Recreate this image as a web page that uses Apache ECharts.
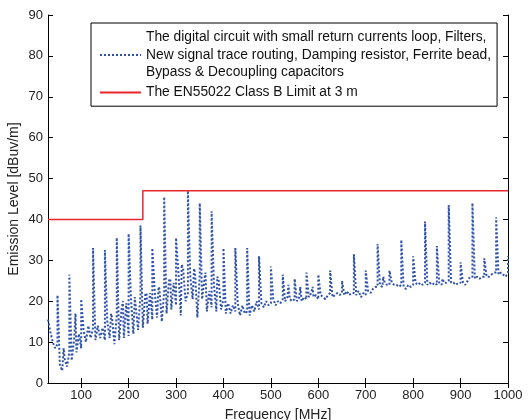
<!DOCTYPE html>
<html>
<head>
<meta charset="utf-8">
<script src="https://cdn.jsdelivr.net/npm/echarts@6/dist/echarts.min.js"></script>
<style>
  html, body { margin: 0; padding: 0; background: #fff; }
  #chart { width: 532px; height: 420px; }
</style>
</head>
<body>
<div id="chart"></div>
<script>
// Radiated emission sweep: analyser floor sampled every 5 MHz from 30 MHz
const sweepStartMHz = 30;
const sweepStepMHz = 5;
const floorLevel = [
  15.5, 12.5, 10, 8.5, 9.5, 4.5, 3, 6, 4, 7.5,          // 30-75
  5.5, 10.5, 7.5, 12, 8.5, 13, 10, 14, 11, 13.5,        // 80-125
  10.5, 14, 11, 13.5, 10.5, 15, 11, 16, 9.5, 16.5,      // 130-175
  10.5, 18, 11, 19.5, 11.5, 20.5, 12, 21, 13, 21.5,     // 180-225
  13.5, 21.5, 14.5, 22, 15.5, 22.5, 16, 23, 15, 22.5,   // 230-275
  17, 25, 18, 24.5, 19, 27, 16.5, 28, 20, 22,           // 280-325
  26, 20.5, 27, 16, 26.5, 20.5, 25.5, 17.5, 22.5, 18.5, // 330-375
  24, 17.5, 25, 18, 20.5, 17, 19.5, 17, 19, 17.5,       // 380-425
  19.5, 16.5, 19, 17, 17.5, 16.5, 19, 17.5, 20, 18,     // 430-475
  19.5, 18.5, 20, 19, 19.5, 20.5, 19, 20, 19.5, 20.5,   // 480-525
  20, 21, 20.5, 20, 20.5, 20, 21, 20, 21, 20.5,         // 530-575
  21, 22, 21, 21.5, 20.5, 21.5, 21, 20.5, 21.5, 22,     // 580-625
  21, 21.5, 22, 21.5, 22, 21.5, 22.5, 21.5, 22, 22,     // 630-675
  21.5, 22.5, 21, 22, 21.5, 22.5, 22, 23, 23.5, 23.5,   // 680-725
  24, 23.5, 24.5, 24, 24, 24.5, 24, 24, 23.5, 24,       // 730-775
  23.5, 23, 24, 23.5, 24, 24.5, 24, 24.5, 24, 24.5,     // 780-825
  24, 24.5, 24, 24.5, 24, 24.5, 24, 24.5, 24.5, 25,     // 830-875
  24.5, 24.5, 24, 24.5, 24.5, 24.5, 24, 25, 26, 26,     // 880-925
  25.5, 26, 25.5, 26, 26, 26, 26, 26.5, 27, 27,         // 930-975
  26.5, 27, 26.5, 26, 27                                // 980-1000
];

// Clock harmonics (25 MHz spacing) and their peak levels
const harmonicFreq = [50, 75, 100, 125, 150, 175, 200, 225, 250, 275, 300, 325, 350,
  375, 400, 425, 450, 475, 500, 525, 550, 575, 600, 625, 650, 675, 700, 725,
  750, 775, 800, 825, 850, 875, 900, 925, 950, 975, 1000];
const harmonicPeak = [21.5, 26.5, 20.5, 33, 32.5, 35.5, 36.5, 38.5, 33, 45.5, 35.5, 47, 44,
  42, 33, 33, 33, 31, 28.5, 26.5, 25.5, 27, 26.5, 27.5, 25, 31.5, 27.5, 34,
  27.5, 35, 31, 39.5, 33.5, 43.5, 29.5, 44, 30.5, 40.5, 31];

// Smaller spurs between the harmonics
const spurFreq = [63, 88, 163, 188, 213, 238, 263, 288, 312, 338, 362, 387, 537, 562, 588, 737, 862];
const spurPeak = [8.5, 17, 17, 20, 21, 22, 23.5, 25.5, 29, 28, 27, 26, 24, 23.5, 23.5, 26, 25.5];

// EN55022 Class B limit at 3 m
const limitFreq = [30, 230, 230, 1000];
const limitLevel = [40, 40, 47, 47];

const freqTicks = [100, 200, 300, 400, 500, 600, 700, 800, 900, 1000];

const emissionName = 'The digital circuit with small return currents loop, Filters,\n' +
  'New signal trace routing, Damping resistor, Ferrite bead,\n' +
  'Bypass & Decoupling capacitors';
const limitName = 'The EN55022 Class B Limit at 3 m';

// Assemble the trace: floor points with each harmonic / spur peak placed at its own frequency
const entries = [];
floorLevel.forEach((v, i) => {
  entries.push({ f: sweepStartMHz + i * sweepStepMHz, o: 0, v: v });
});
harmonicFreq.forEach((f, k) => {
  entries.push({ f: f, o: 1, v: harmonicPeak[k] });
});
spurFreq.forEach((f, k) => {
  entries.push({ f: f, o: 1, v: spurPeak[k] });
});
entries.sort((a, b) => (a.f - b.f) || (a.o - b.o));
const emissionData = entries.map(e => [e.f, e.v]);
const limitData = limitFreq.map((f, i) => [f, limitLevel[i]]);

const font = 'Liberation Sans, Arial, sans-serif';
const chart = echarts.init(document.getElementById('chart'), null, { renderer: 'canvas' });

const axisLineStyle = { color: '#000', width: 1 };
const plainNumber = v => String(v);

chart.setOption({
  animation: false,
  backgroundColor: '#fff',
  grid: { left: 48, right: 24, top: 15, bottom: 37, containLabel: false, outerBoundsMode: 'none' },
  legend: {
    orient: 'vertical',
    left: 91,
    top: 23,
    padding: [6, 6, 5, 8],
    itemWidth: 41,
    itemHeight: 10,
    itemGap: 3,
    backgroundColor: '#fff',
    borderColor: '#000',
    borderWidth: 1,
    borderRadius: 0,
    itemStyle: { opacity: 0 },
    textStyle: { fontFamily: font, fontSize: 13.8, color: '#111', lineHeight: 17.3 },
    data: [emissionName, limitName]
  },
  xAxis: [{
    type: 'value',
    min: 30,
    max: 1000,
    name: 'Frequency [MHz]',
    nameLocation: 'middle',
    nameGap: 25,
    nameTextStyle: { fontFamily: font, fontSize: 14, color: '#222' },
    axisLine: { show: true, lineStyle: axisLineStyle },
    axisTick: { show: true, inside: true, length: 5, lineStyle: axisLineStyle, customValues: freqTicks },
    axisLabel: { fontFamily: font, fontSize: 13, color: '#222', margin: 6, formatter: plainNumber, customValues: freqTicks },
    splitLine: { show: false }
  }, {
    type: 'value',
    position: 'top',
    min: 30,
    max: 1000,
    axisLine: { show: true, lineStyle: axisLineStyle },
    axisTick: { show: true, inside: true, length: 5, lineStyle: axisLineStyle, customValues: freqTicks },
    axisLabel: { show: false, customValues: freqTicks },
    splitLine: { show: false }
  }],
  yAxis: [{
    type: 'value',
    min: 0,
    max: 90,
    interval: 10,
    name: 'Emission Level [dBuv/m]',
    nameLocation: 'middle',
    nameGap: 27,
    nameMoveOverlap: false,
    nameTextStyle: { fontFamily: font, fontSize: 14, color: '#222' },
    axisLine: { show: true, lineStyle: axisLineStyle },
    axisTick: { show: true, inside: true, length: 5, lineStyle: axisLineStyle },
    axisLabel: { fontFamily: font, fontSize: 13, color: '#222', margin: 5 },
    splitLine: { show: false }
  }, {
    type: 'value',
    position: 'right',
    min: 0,
    max: 90,
    interval: 10,
    axisLine: { show: true, lineStyle: axisLineStyle },
    axisTick: { show: true, inside: true, length: 5, lineStyle: axisLineStyle },
    axisLabel: { show: false },
    splitLine: { show: false }
  }],
  series: [{
    name: emissionName,
    type: 'line',
    data: emissionData,
    showSymbol: false,
    symbol: 'none',
    lineStyle: { color: '#2f52a8', width: 2, type: 'dotted' },
    itemStyle: { color: '#2f52a8' },
    z: 2
  }, {
    name: limitName,
    type: 'line',
    data: limitData,
    showSymbol: false,
    symbol: 'none',
    lineStyle: { color: '#e8242c', width: 1.5 },
    itemStyle: { color: '#e8242c' },
    z: 3
  }]
});
</script>
</body>
</html>
